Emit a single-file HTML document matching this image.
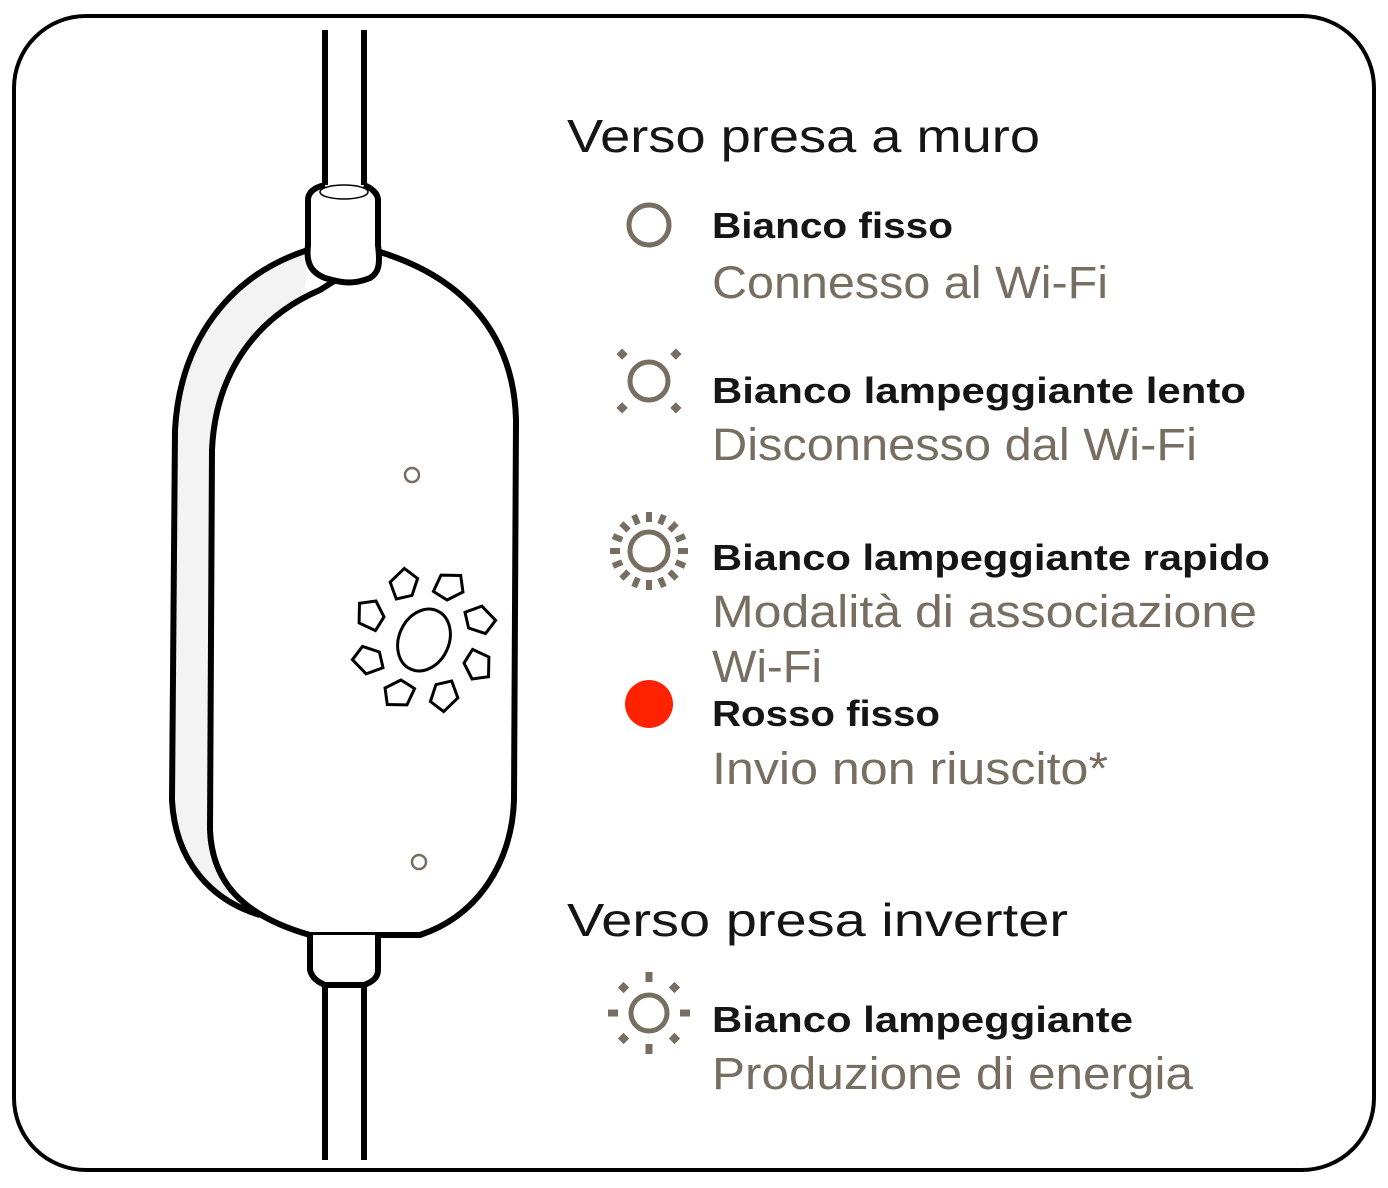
<!DOCTYPE html>
<html><head><meta charset="utf-8"><style>
html,body{margin:0;padding:0;background:#fff}
svg{display:block}
text{font-family:"Liberation Sans",sans-serif}
.h{font-size:46px;fill:#151515}
.b{font-size:36px;font-weight:bold;fill:#151515}
.s{font-size:45px;fill:#776e62}
</style></head><body>
<svg width="1388" height="1188" viewBox="0 0 1388 1188" xmlns="http://www.w3.org/2000/svg">
<rect x="14" y="16" width="1360" height="1154" rx="72" fill="#fff" stroke="#000" stroke-width="4"/>
<g fill="none" stroke="#000" stroke-width="6" stroke-linejoin="round">
<line x1="325" y1="30" x2="325" y2="188"/>
<line x1="364" y1="30" x2="364" y2="188"/>
<line x1="325" y1="985" x2="325" y2="1160"/>
<line x1="364" y1="985" x2="364" y2="1160"/>
<path d="M308 250 C230 275 180 340 175 430 L172 800 C175 860 210 900 260 915" fill="#f3f3f3"/>
<path d="M320 290 C250 320 215 380 212 450 L210 830 C212 880 240 915 310 935 L420 935 C480 915 512 860 514 800 L516 420 C514 340 470 280 380 252 Z" fill="#fff"/>
<path d="M325 185 C312 188 308 194 308 200 L308 245 C306 262 310 272 325 278 C345 284 355 284 370 278 C380 272 380 262 378 245 L378 200 C378 194 372 188 364 185" fill="#fff"/>
<path d="M310 935 L310 970 C312 978 318 982 325 985 L364 985 C372 982 378 978 378 970 L378 935" fill="#fff"/>
</g>
<ellipse cx="344" cy="192" rx="24" ry="7" fill="none" stroke="#000" stroke-width="1.5"/>
<circle cx="412" cy="475" r="7" fill="none" stroke="#776e62" stroke-width="2.5"/>
<circle cx="419" cy="862" r="7" fill="none" stroke="#776e62" stroke-width="2.5"/>
<g fill="#fff" stroke="#000" stroke-width="3">
<ellipse cx="424" cy="640" rx="25" ry="32" transform="rotate(25 424 640)"/>
<g transform="translate(424 640)">
<g transform="rotate(-20)"><path d="M-12 -66 L6 -74 L15 -60 L4 -46 L-12 -48 Z"/></g>
<g transform="rotate(25)"><path d="M-12 -66 L6 -74 L15 -60 L4 -46 L-12 -48 Z"/></g>
<g transform="rotate(70)"><path d="M-12 -66 L6 -74 L15 -60 L4 -46 L-12 -48 Z"/></g>
<g transform="rotate(115)"><path d="M-12 -66 L6 -74 L15 -60 L4 -46 L-12 -48 Z"/></g>
<g transform="rotate(160)"><path d="M-12 -66 L6 -74 L15 -60 L4 -46 L-12 -48 Z"/></g>
<g transform="rotate(205)"><path d="M-12 -66 L6 -74 L15 -60 L4 -46 L-12 -48 Z"/></g>
<g transform="rotate(250)"><path d="M-12 -66 L6 -74 L15 -60 L4 -46 L-12 -48 Z"/></g>
<g transform="rotate(295)"><path d="M-12 -66 L6 -74 L15 -60 L4 -46 L-12 -48 Z"/></g>
</g>
</g>
<g fill="none" stroke="#776e62" stroke-width="5">
<circle cx="649" cy="225" r="20"/>
<circle cx="649" cy="381" r="19"/>
<circle cx="649" cy="551" r="19"/>
<circle cx="649" cy="1013" r="18"/>
</g>
<g fill="#776e62">
<g transform="translate(649 381)">
<rect x="-4" y="-4" width="8" height="8" transform="rotate(45) translate(0 -38)"/>
<rect x="-4" y="-4" width="8" height="8" transform="rotate(135) translate(0 -38)"/>
<rect x="-4" y="-4" width="8" height="8" transform="rotate(225) translate(0 -38)"/>
<rect x="-4" y="-4" width="8" height="8" transform="rotate(315) translate(0 -38)"/>
</g>
<g transform="translate(649 551)">
<rect x="-3" y="-5" width="6" height="10" transform="rotate(0) translate(0 -34)"/>
<rect x="-3" y="-5" width="6" height="10" transform="rotate(22.5) translate(0 -34)"/>
<rect x="-3" y="-5" width="6" height="10" transform="rotate(45) translate(0 -34)"/>
<rect x="-3" y="-5" width="6" height="10" transform="rotate(67.5) translate(0 -34)"/>
<rect x="-3" y="-5" width="6" height="10" transform="rotate(90) translate(0 -34)"/>
<rect x="-3" y="-5" width="6" height="10" transform="rotate(112.5) translate(0 -34)"/>
<rect x="-3" y="-5" width="6" height="10" transform="rotate(135) translate(0 -34)"/>
<rect x="-3" y="-5" width="6" height="10" transform="rotate(157.5) translate(0 -34)"/>
<rect x="-3" y="-5" width="6" height="10" transform="rotate(180) translate(0 -34)"/>
<rect x="-3" y="-5" width="6" height="10" transform="rotate(202.5) translate(0 -34)"/>
<rect x="-3" y="-5" width="6" height="10" transform="rotate(225) translate(0 -34)"/>
<rect x="-3" y="-5" width="6" height="10" transform="rotate(247.5) translate(0 -34)"/>
<rect x="-3" y="-5" width="6" height="10" transform="rotate(270) translate(0 -34)"/>
<rect x="-3" y="-5" width="6" height="10" transform="rotate(292.5) translate(0 -34)"/>
<rect x="-3" y="-5" width="6" height="10" transform="rotate(315) translate(0 -34)"/>
<rect x="-3" y="-5" width="6" height="10" transform="rotate(337.5) translate(0 -34)"/>
</g>
<g transform="translate(649 1013)">
<rect x="-3.5" y="-5" width="7" height="10" transform="rotate(0) translate(0 -36)"/>
<rect x="-4" y="-4" width="8" height="8" transform="rotate(45) translate(0 -36)"/>
<rect x="-3.5" y="-5" width="7" height="10" transform="rotate(90) translate(0 -36)"/>
<rect x="-4" y="-4" width="8" height="8" transform="rotate(135) translate(0 -36)"/>
<rect x="-3.5" y="-5" width="7" height="10" transform="rotate(180) translate(0 -36)"/>
<rect x="-4" y="-4" width="8" height="8" transform="rotate(225) translate(0 -36)"/>
<rect x="-3.5" y="-5" width="7" height="10" transform="rotate(270) translate(0 -36)"/>
<rect x="-4" y="-4" width="8" height="8" transform="rotate(315) translate(0 -36)"/>
</g>
</g>
<circle cx="649" cy="704" r="24" fill="#ff2200"/>
<text class="h" x="567" y="152" textLength="473" lengthAdjust="spacingAndGlyphs">Verso presa a muro</text>
<text class="b" x="712" y="238" textLength="241" lengthAdjust="spacingAndGlyphs">Bianco fisso</text>
<text class="s" x="712" y="298" textLength="396" lengthAdjust="spacingAndGlyphs">Connesso al Wi-Fi</text>
<text class="b" x="712" y="403" textLength="534" lengthAdjust="spacingAndGlyphs">Bianco lampeggiante lento</text>
<text class="s" x="712" y="460" textLength="485" lengthAdjust="spacingAndGlyphs">Disconnesso dal Wi-Fi</text>
<text class="b" x="712" y="570" textLength="558" lengthAdjust="spacingAndGlyphs">Bianco lampeggiante rapido</text>
<text class="s" x="712" y="627" textLength="545" lengthAdjust="spacingAndGlyphs">Modalità di associazione</text>
<text class="s" x="712" y="682" textLength="110" lengthAdjust="spacingAndGlyphs">Wi-Fi</text>
<text class="b" x="712" y="726" textLength="228" lengthAdjust="spacingAndGlyphs">Rosso fisso</text>
<text class="s" x="712" y="784" textLength="396" lengthAdjust="spacingAndGlyphs">Invio non riuscito*</text>
<text class="h" x="567" y="936" textLength="501" lengthAdjust="spacingAndGlyphs">Verso presa inverter</text>
<text class="b" x="712" y="1032" textLength="421" lengthAdjust="spacingAndGlyphs">Bianco lampeggiante</text>
<text class="s" x="712" y="1089" textLength="481" lengthAdjust="spacingAndGlyphs">Produzione di energia</text>
</svg>
</body></html>
